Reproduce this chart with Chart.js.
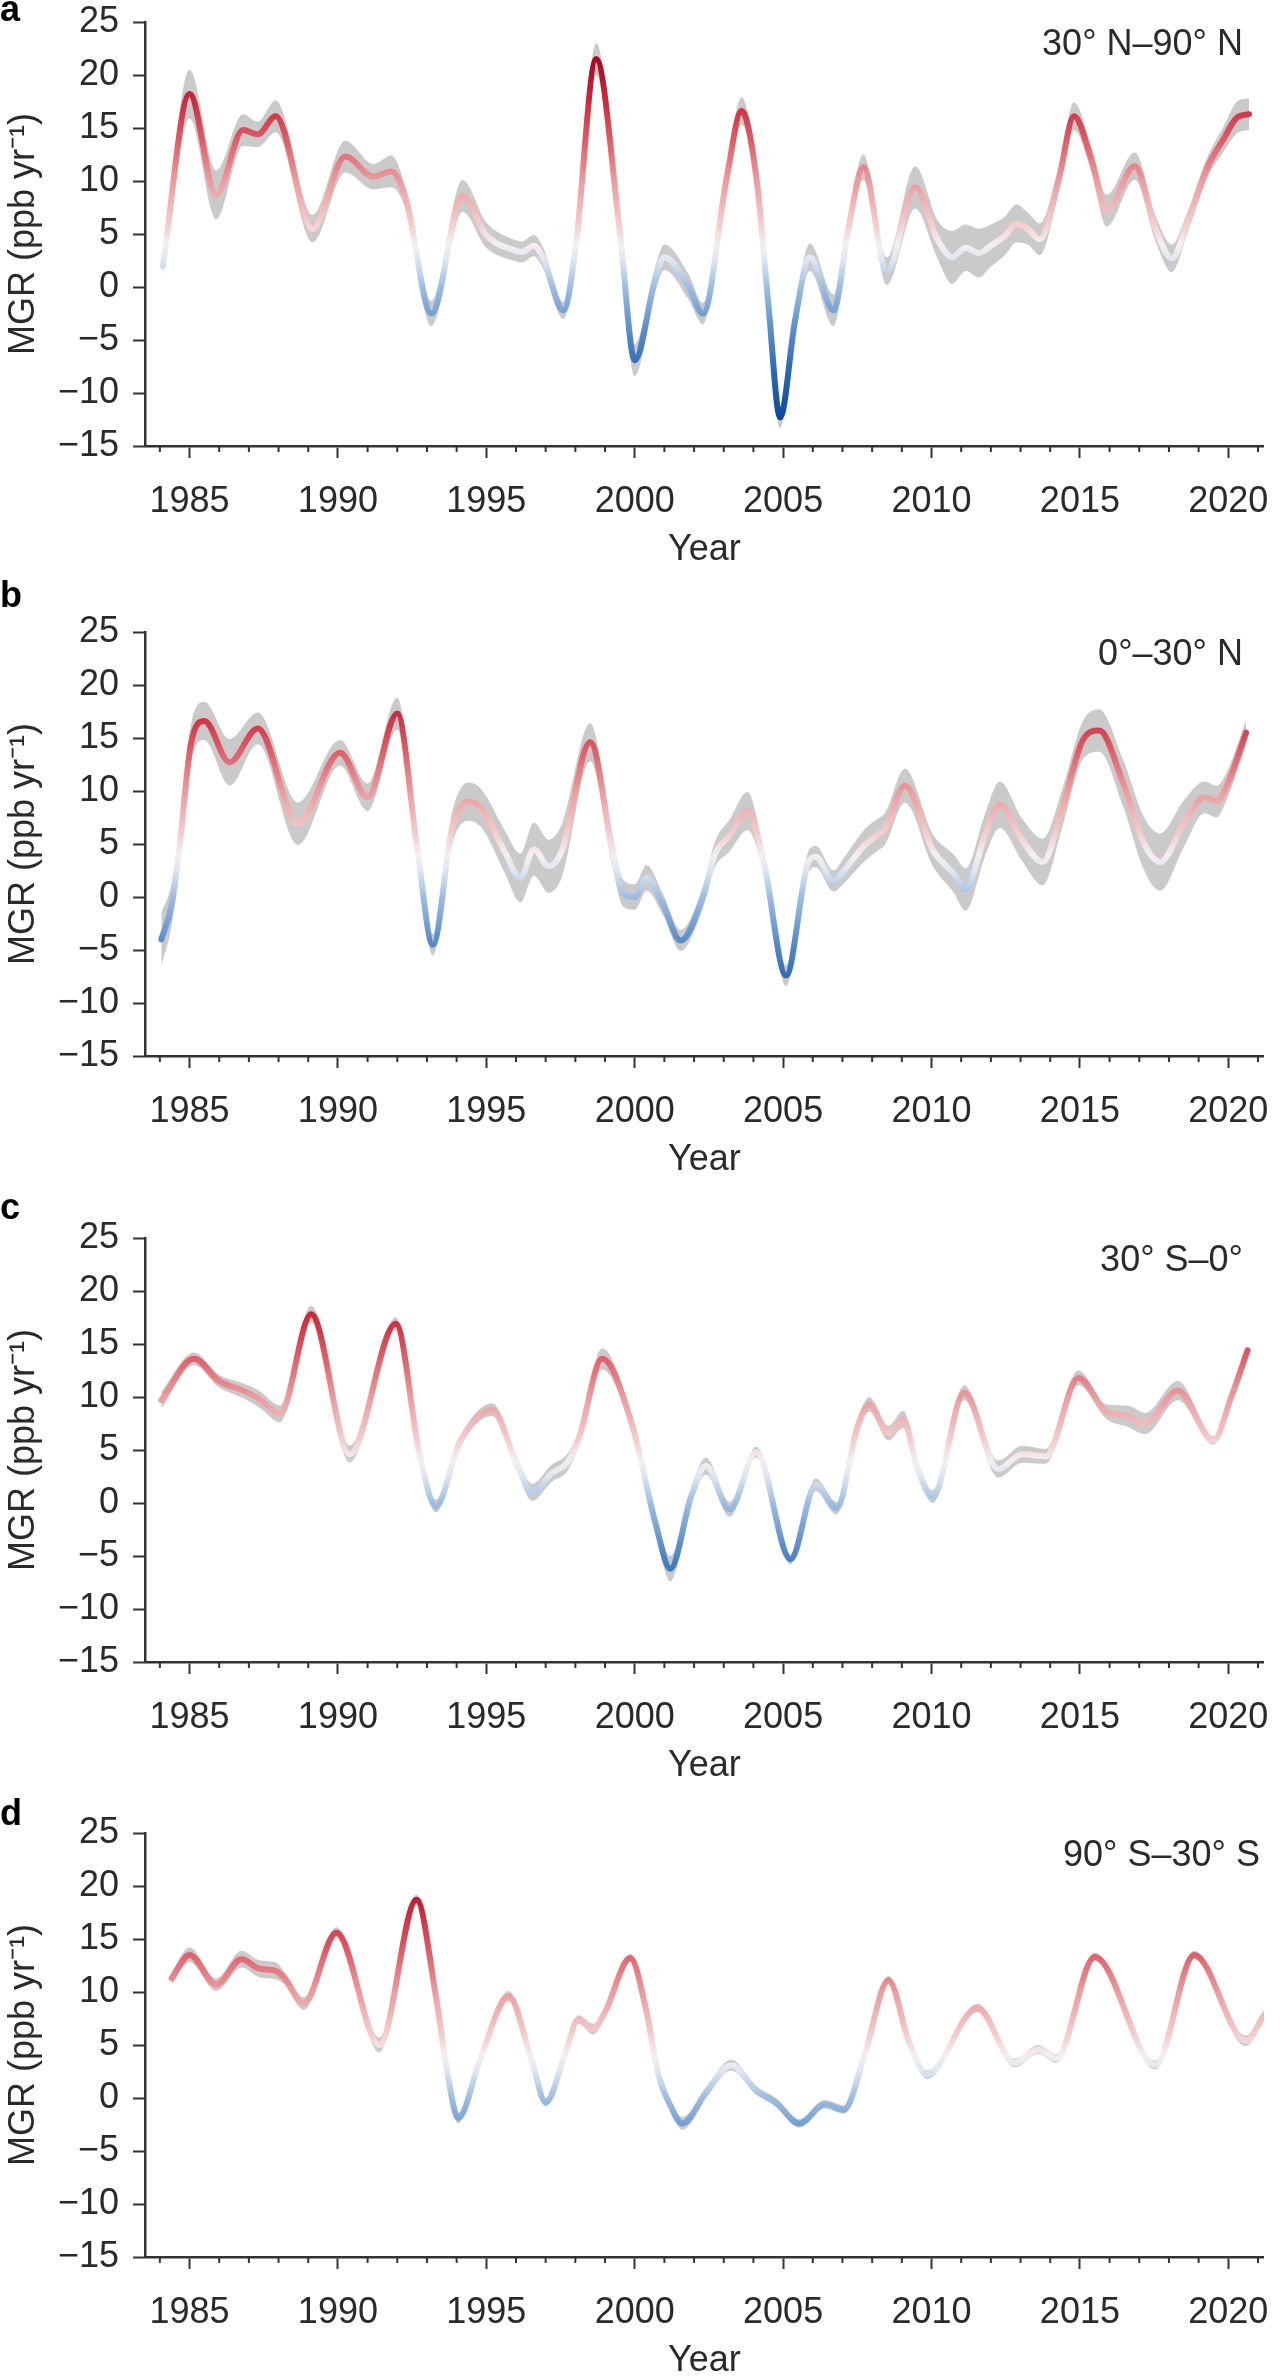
<!DOCTYPE html>
<html>
<head>
  <title>Methane growth rate by latitude band</title>
  <script src="https://cdn.jsdelivr.net/npm/chart.js"></script>
  <style>
    body { margin: 0; background: #fff; }
    #wrap { position: relative; width: 1280px; height: 2376px; overflow: hidden; }
    canvas { position: absolute; left: 0; }
  </style>
</head>
<body>
<div id="wrap">
  <canvas id="chartA" width="1280" height="610"></canvas>
  <canvas id="chartB" width="1280" height="610"></canvas>
  <canvas id="chartC" width="1280" height="610"></canvas>
  <canvas id="chartD" width="1280" height="610"></canvas>
</div>
<script>

  // panel a: 30° N–90° N
  let aYears = [1984.1, 1985.0, 1985.9, 1986.8, 1987.3, 1987.9, 1989.15, 1990.25, 1991.2, 1991.8, 1992.3, 1993.15, 1994.2, 1995.0, 1995.9, 1996.2, 1996.6, 1996.9, 1997.6, 1998.0, 1998.7, 1999.5, 2000.0, 2000.7, 2001.0, 2001.8, 2002.3, 2003.1, 2003.6, 2004.1, 2004.5, 2004.9, 2005.4, 2005.9, 2006.7, 2007.2, 2007.7, 2008.5, 2009.45, 2010.2, 2010.7, 2011.15, 2011.6, 2012.0, 2012.5, 2012.85, 2013.25, 2013.65, 2014.3, 2014.8, 2015.4, 2015.9, 2016.85, 2017.55, 2018.1, 2018.6, 2019.3, 2019.85, 2020.3, 2020.7];
  let aMgr = [2, 18.2, 8.7, 14.8, 14.4, 16.1, 5.5, 12.3, 10.4, 10.9, 8.2, -2.5, 8.6, 4.9, 3.5, 3.3, 3.9, 2.8, -2.2, 3.5, 21.5, 5.2, -6.9, 0.8, 2.8, 0.1, -2.5, 10.3, 16.6, 10.3, -1.5, -12.3, -3.2, 2.8, -2.2, 5.5, 11.3, 1.5, 9.4, 4.5, 2.8, 3.7, 3.2, 3.9, 4.9, 6.0, 5.5, 4.5, 10.3, 16.1, 11.9, 7.2, 11.4, 5.5, 2.7, 5.9, 11.3, 14.0, 16.0, 16.3];
  let aSpread = [1.0, 2.3, 2.3, 1.5, 1.2, 1.5, 1.3, 1.5, 1.2, 1.5, 1.0, 1.2, 1.5, 1.2, 1.0, 1.0, 1.0, 1.0, 0.8, 0.8, 1.5, 1.0, 1.5, 1.2, 1.2, 1.2, 1.0, 1.0, 1.3, 1.0, 0.8, 1.0, 1.0, 1.3, 1.5, 1.2, 1.2, 1.3, 2.0, 1.8, 2.5, 2.2, 2.3, 2.0, 1.8, 1.8, 1.5, 1.5, 1.2, 1.3, 1.2, 1.5, 1.3, 1.2, 1.3, 1.0, 1.0, 1.2, 1.5, 1.5];

  // panel b: 0°–30° N
  let bYears = [1984.05, 1984.4, 1984.65, 1985.05, 1985.5, 1986.35, 1987.3, 1988.65, 1990.07, 1991.0, 1992.0, 1992.65, 1993.2, 1993.85, 1994.4, 1994.85, 1995.6, 1996.15, 1996.6, 1997.1, 1997.55, 1998.5, 1999.25, 1999.6, 2000.0, 2000.4, 2000.95, 2001.55, 2002.3, 2002.7, 2003.2, 2003.8, 2004.35, 2005.1, 2005.85, 2006.1, 2006.7, 2007.05, 2007.75, 2008.15, 2008.45, 2009.1, 2010.05, 2010.75, 2011.15, 2011.8, 2012.3, 2013.05, 2013.75, 2014.4, 2015.1, 2015.65, 2016.45, 2017.15, 2017.7, 2018.5, 2019.2, 2019.6, 2019.95, 2020.6];
  let bMgr = [-4, -0.7, 4.4, 14.5, 16.6, 12.7, 15.9, 6.9, 13.6, 9.4, 17.3, 5.1, -4.5, 6.5, 9.0, 8.3, 4.4, 1.8, 4.5, 2.9, 4.4, 14.6, 4.4, 0.4, 0.0, 1.8, -0.7, -4.1, 0.0, 4.0, 5.8, 8.1, 3.3, -7.4, 3.3, 3.8, 1.5, 2.5, 4.9, 5.8, 6.5, 10.5, 4.4, 2.2, 0.7, 5.8, 8.7, 5.4, 3.3, 8.3, 14.8, 15.7, 10.8, 5.1, 3.3, 6.9, 9.4, 9.0, 10.5, 15.5];
  let bSpread = [2.5, 2.0, 1.8, 1.8, 1.8, 2.2, 1.5, 2.0, 1.2, 1.3, 1.5, 1.0, 1.0, 1.5, 1.8, 1.8, 2.0, 2.3, 2.5, 2.5, 2.5, 1.8, 1.5, 1.3, 1.2, 1.2, 1.0, 1.0, 1.0, 1.2, 1.5, 1.8, 1.0, 1.0, 1.0, 1.0, 1.0, 1.2, 1.5, 1.5, 1.5, 1.6, 1.5, 1.8, 2.0, 2.0, 2.2, 2.0, 2.2, 1.8, 1.8, 2.0, 2.2, 2.5, 2.7, 2.2, 1.5, 1.5, 1.3, 1.2];

  // panel c: 30° S–0°
  let cYears = [1984.05, 1985.15, 1986.0, 1986.8, 1987.35, 1988.05, 1989.1, 1990.4, 1991.95, 1992.75, 1993.3, 1994.1, 1995.2, 1996.0, 1996.55, 1997.2, 1997.75, 1998.15, 1998.9, 1999.9, 2000.7, 2001.2, 2001.9, 2002.4, 2003.2, 2004.1, 2005.25, 2006.1, 2006.8, 2007.5, 2007.9, 2008.55, 2009.05, 2009.5, 2010.05, 2011.1, 2012.25, 2013.05, 2013.85, 2014.95, 2015.9, 2016.6, 2017.2, 2018.3, 2019.5, 2020.1, 2020.65];
  let cMgr = [9.7, 13.6, 11.5, 10.6, 9.8, 8.4, 17.8, 4.6, 16.9, 4.6, -0.3, 5.7, 8.8, 3.9, 1.0, 2.8, 3.9, 6.4, 13.6, 7.5, -1.9, -6.2, 0.6, 3.5, -0.6, 4.8, -5.3, 1.7, -0.5, 7.1, 9.3, 6.6, 7.9, 3.5, 0.6, 10.4, 3.2, 4.6, 4.4, 11.8, 8.6, 8.2, 7.5, 10.6, 5.9, 10.0, 14.4];
  let cSpread = [0.8, 0.6, 0.6, 0.7, 0.8, 0.8, 0.8, 0.8, 0.6, 0.5, 0.6, 0.5, 0.6, 0.7, 0.8, 0.8, 0.8, 0.7, 1.0, 0.7, 0.8, 1.2, 0.8, 0.8, 0.7, 0.5, 0.5, 0.6, 0.6, 0.6, 0.7, 0.7, 0.8, 0.6, 0.6, 0.7, 0.8, 0.8, 0.7, 0.7, 0.7, 1.0, 1.0, 0.9, 0.4, 0.4, 0.4];

  // panel d: 90° S–30° S
  let dYears = [1984.4, 1985.0, 1985.9, 1986.75, 1987.35, 1987.9, 1988.2, 1988.85, 1989.95, 1991.4, 1992.65, 1993.3, 1993.7, 1994.05, 1994.8, 1995.75, 1996.55, 1997.0, 1997.65, 1998.1, 1998.6, 1999.0, 1999.85, 2000.4, 2000.8, 2001.2, 2001.6, 2002.45, 2003.25, 2004.1, 2004.75, 2005.55, 2006.4, 2007.05, 2007.75, 2008.55, 2009.25, 2009.85, 2011.55, 2012.8, 2013.6, 2014.2, 2015.5, 2017.55, 2018.85, 2020.6, 2021.2];
  let dMgr = [11.3, 13.5, 10.7, 13.1, 12.2, 12.0, 11.3, 8.9, 15.6, 5.0, 18.7, 9.6, 2.2, -1.9, 3.7, 9.6, 3.3, -0.4, 4.1, 7.4, 6.5, 8.1, 13.2, 8.1, 2.2, -0.7, -2.4, 0.7, 3.1, 0.7, -0.4, -2.4, -0.6, -1.1, 4.1, 11.1, 5.2, 2.2, 8.5, 3.3, 4.6, 3.7, 13.3, 3.1, 13.5, 5.4, 7.8];
  let dSpread = [0.6, 0.7, 0.6, 0.8, 0.8, 0.8, 0.6, 0.6, 0.5, 0.7, 0.5, 0.4, 0.4, 0.5, 0.4, 0.5, 0.4, 0.4, 0.4, 0.4, 0.5, 0.4, 0.4, 0.4, 0.4, 0.5, 0.6, 0.5, 0.5, 0.4, 0.4, 0.4, 0.4, 0.4, 0.4, 0.4, 0.4, 0.4, 0.4, 0.4, 0.4, 0.4, 0.4, 0.4, 0.4, 0.5, 0.5];

  // diverging colour scale for the line (value -> colour)
  let colorValues = [-13, -8, -4, 0, 2.5, 4, 6, 10, 14, 18, 22];
  let colorList = ['#08469a', '#2a68b3', '#5a8ecb', '#9dbde3', '#dde6f2', '#f6efef', '#f5cccc', '#ec9b9e', '#de5a64', '#c8243a', '#a80018'];

  const FONT = "'Liberation Sans', Arial, Helvetica, sans-serif";
  const INK = '#333333';
  const TEXT = '#2a2a2a';
  const PAD_TOP = 60;
  const AXIS_H = 126;

  let panels = [
    { id: 'chartA', years: aYears, mgr: aMgr, spread: aSpread, region: '30° N–90° N', letter: 'a', plotTop: 22, letterBase: 21, regionRight: 1243 },
    { id: 'chartB', years: bYears, mgr: bMgr, spread: bSpread, region: '0°–30° N', letter: 'b', plotTop: 632, letterBase: 607, regionRight: 1243 },
    { id: 'chartC', years: cYears, mgr: cMgr, spread: cSpread, region: '30° S–0°', letter: 'c', plotTop: 1238, letterBase: 1219, regionRight: 1243 },
    { id: 'chartD', years: dYears, mgr: dMgr, spread: dSpread, region: '90° S–30° S', letter: 'd', plotTop: 1833, letterBase: 1825, regionRight: 1260 }
  ];

  function valueGradient(chart) {
    const { ctx, chartArea, scales } = chart;
    if (!chartArea) return null;
    const top = scales.y.getPixelForValue(25);
    const bottom = scales.y.getPixelForValue(-15);
    const g = ctx.createLinearGradient(0, top, 0, bottom);
    colorValues.forEach((v, i) => {
      let off = (scales.y.getPixelForValue(v) - top) / (bottom - top);
      g.addColorStop(Math.min(1, Math.max(0, off)), colorList[i]);
    });
    return g;
  }

  // minor year ticks, region label and panel letter
  const decorations = {
    id: 'decorations',
    afterDraw(chart, args, opts) {
      const { ctx, chartArea, scales } = chart;
      ctx.save();
      ctx.strokeStyle = INK;
      ctx.lineWidth = 2;
      for (let yr = 1984; yr <= 2021; yr++) {
        if (yr % 5 === 0) continue;
        let x = scales.x.getPixelForValue(yr);
        ctx.beginPath();
        ctx.moveTo(x, chartArea.bottom);
        ctx.lineTo(x, chartArea.bottom + 6);
        ctx.stroke();
      }
      ctx.fillStyle = TEXT;
      ctx.font = '36px ' + FONT;
      ctx.textAlign = 'right';
      ctx.textBaseline = 'middle';
      ctx.fillText(opts.region, opts.regionRight, chartArea.top + 23);
      ctx.fillStyle = '#000';
      ctx.font = 'bold 36px ' + FONT;
      ctx.textAlign = 'left';
      ctx.textBaseline = 'alphabetic';
      ctx.fillText(opts.letter, 0, opts.letterBase);
      ctx.restore();
    }
  };

  panels.forEach(p => {
    let canvasTop = p.plotTop - PAD_TOP;
    let canvas = document.getElementById(p.id);
    canvas.style.top = canvasTop + 'px';

    let line = p.years.map((x, i) => ({ x: x, y: p.mgr[i] }));
    let upper = p.years.map((x, i) => ({ x: x, y: p.mgr[i] + p.spread[i] }));
    let lower = p.years.map((x, i) => ({ x: x, y: p.mgr[i] - p.spread[i] }));

    new Chart(canvas.getContext('2d'), {
      type: 'line',
      data: {
        datasets: [{
          label: 'MGR',
          data: line,
          borderColor: ctx => valueGradient(ctx.chart),
          borderWidth: 6,
          borderCapStyle: 'round',
          cubicInterpolationMode: 'monotone',
          pointRadius: 0,
          fill: false
        }, {
          label: 'upper',
          data: upper,
          borderWidth: 0,
          pointRadius: 0,
          cubicInterpolationMode: 'monotone',
          backgroundColor: 'rgba(150, 150, 150, 0.5)',
          fill: '+1'
        }, {
          label: 'lower',
          data: lower,
          borderWidth: 0,
          pointRadius: 0,
          cubicInterpolationMode: 'monotone',
          fill: false
        }]
      },
      options: {
        responsive: false,
        animation: false,
        layout: { padding: { top: PAD_TOP, right: 5, left: 0, bottom: 0 } },
        plugins: {
          legend: { display: false },
          tooltip: { enabled: false },
          decorations: { region: p.region, letter: p.letter, letterBase: p.letterBase - canvasTop, regionRight: p.regionRight }
        },
        scales: {
          x: {
            type: 'linear',
            min: 1983.5,
            max: 2021.2,
            afterFit: s => { s.height = AXIS_H; },
            border: { display: true, color: INK, width: 2.5 },
            grid: {
              drawOnChartArea: false,
              tickLength: 12,
              tickWidth: 2,
              tickColor: c => (c.tick && c.tick.value % 5 === 0) ? INK : 'rgba(0,0,0,0)'
            },
            ticks: {
              stepSize: 1,
              includeBounds: false,
              autoSkip: false,
              maxRotation: 0,
              minRotation: 0,
              padding: 22,
              color: TEXT,
              font: { family: FONT, size: 36 },
              callback: v => (v % 5 === 0) ? String(v) : ''
            },
            title: {
              display: true,
              text: 'Year',
              color: TEXT,
              font: { family: FONT, size: 36 },
              padding: { top: 0, bottom: 0 }
            }
          },
          y: {
            min: -15,
            max: 25,
            afterFit: s => { s.width = 145; },
            border: { display: true, color: INK, width: 2.5 },
            grid: { drawOnChartArea: false, tickLength: 12, tickWidth: 2, tickColor: INK },
            ticks: {
              stepSize: 5,
              padding: 14,
              color: TEXT,
              font: { family: FONT, size: 36 },
              callback: v => String(v).replace('-', '\u2212')
            },
            title: {
              display: true,
              text: 'MGR (ppb yr\u207B\u00B9)',
              color: TEXT,
              font: { family: FONT, size: 36 },
              padding: { top: 2, bottom: 0 }
            }
          }
        }
      },
      plugins: [decorations]
    });
  });

</script>
</body>
</html>
